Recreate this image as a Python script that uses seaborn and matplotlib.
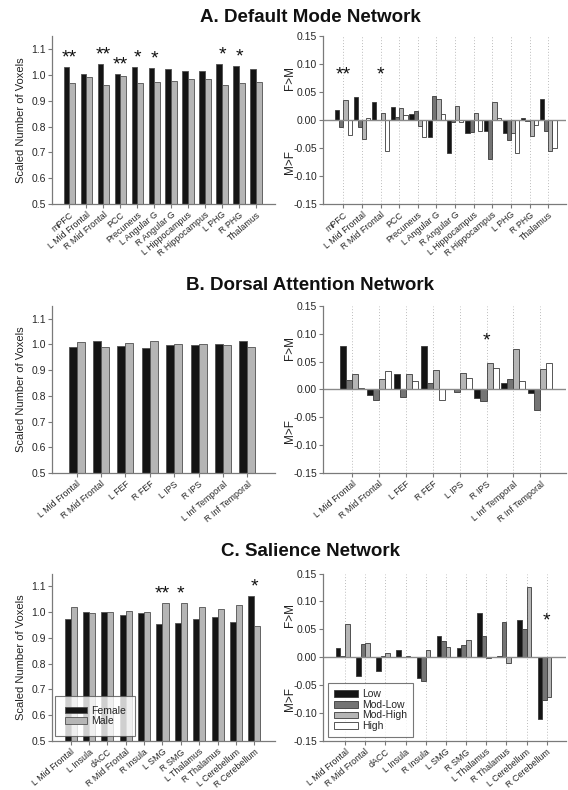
import matplotlib
matplotlib.use("Agg")
import matplotlib.pyplot as plt
from matplotlib.patches import Patch
import seaborn as sns
import pandas as pd

# ---------------- data ----------------
dmn_regions = ["mPFC", "L Mid Frontal", "R Mid Frontal", "PCC", "Precuneus", "L Angular G",
               "R Angular G", "L Hippocampus", "R Hippocampus", "L PHG", "R PHG", "Thalamus"]
dmn_female = [1.032, 1.004, 1.044, 1.004, 1.031, 1.026, 1.022, 1.014, 1.017, 1.044, 1.036, 1.025]
dmn_male = [0.968, 0.992, 0.960, 0.995, 0.970, 0.974, 0.978, 0.983, 0.983, 0.960, 0.968, 0.974]
dmn_sex_stars = ["**", "", "**", "**", "*", "*", "", "", "", "*", "*", ""]
dmn_low = [0.018, 0.041, 0.033, 0.023, 0.011, -0.031, -0.059, -0.024, -0.019, -0.024, 0.004, 0.037]
dmn_modlow = [-0.013, -0.013, 0.000, 0.006, 0.016, 0.044, -0.003, -0.021, -0.070, -0.036, -0.002, -0.020]
dmn_modhigh = [0.036, -0.034, 0.013, 0.022, -0.011, 0.038, 0.025, 0.013, 0.032, -0.024, -0.028, -0.056]
dmn_high = [-0.027, 0.004, -0.055, 0.009, -0.030, 0.011, -0.003, -0.020, 0.004, -0.059, -0.008, -0.050]
dmn_diff_stars = ["**", "", "*", "", "", "", "", "", "", "", "", ""]
dmn_diff_star_y = 0.081

dan_regions = ["L Mid Frontal", "R Mid Frontal", "L FEF", "R FEF", "L IPS", "R IPS",
               "L Inf Temporal", "R Inf Temporal"]
dan_female = [0.988, 1.012, 0.992, 0.986, 0.998, 0.996, 1.002, 1.013]
dan_male = [1.008, 0.988, 1.005, 1.012, 1.000, 1.002, 0.998, 0.988]
dan_sex_stars = ["", "", "", "", "", "", "", ""]
dan_low = [0.078, -0.010, 0.027, 0.077, 0.001, -0.016, 0.011, -0.007]
dan_modlow = [0.017, -0.019, -0.013, 0.012, -0.005, -0.020, 0.018, -0.037]
dan_modhigh = [0.027, 0.018, 0.027, 0.034, 0.029, 0.047, 0.073, 0.036]
dan_high = [0.002, 0.033, 0.016, -0.018, 0.020, 0.039, 0.016, 0.047]
dan_diff_stars = ["", "", "", "", "", "*", "", ""]
dan_diff_star_y = 0.086

sal_regions = ["L Mid Frontal", "L Insula", "dACC", "R Mid Frontal", "R Insula", "L SMG", "R SMG",
               "L Thalamus", "R Thalamus", "L Cerebellum", "R Cerebellum"]
sal_female = [0.975, 1.001, 0.999, 0.990, 0.998, 0.955, 0.957, 0.975, 0.980, 0.963, 1.063]
sal_male = [1.020, 0.997, 1.001, 1.005, 1.000, 1.036, 1.035, 1.020, 1.013, 1.028, 0.946]
sal_sex_stars = ["", "", "", "", "", "**", "*", "", "", "", "*"]
sal_diff_regions = ["L Mid Frontal", "R Mid Frontal", "dACC", "L Insula", "R Insula", "L SMG", "R SMG",
                    "L Thalamus", "R Thalamus", "L Cerebellum", "R Cerebellum"]
sal_low = [0.017, -0.033, -0.025, 0.013, -0.038, 0.039, 0.017, 0.080, 0.003, 0.066, -0.110]
sal_modlow = [0.003, 0.024, 0.003, 0.000, -0.042, 0.030, 0.022, 0.039, 0.063, 0.050, -0.077]
sal_modhigh = [0.060, 0.025, 0.008, 0.003, 0.013, 0.018, 0.031, -0.001, -0.010, 0.126, -0.071]
sal_high = [0.0, 0.0, 0.0, 0.0, 0.0, 0.0, 0.0, 0.0, 0.0, 0.0, 0.0]
sal_diff_stars = ["", "", "", "", "", "", "", "", "", "", "*"]
sal_diff_star_y = 0.065

sexes = ["Female", "Male"]
groups = ["Low", "Mod-Low", "Mod-High", "High"]
sex_colors = {"Female": "#141414", "Male": "#b5b5b5"}
grp_colors = {"Low": "#141414", "Mod-Low": "#747474", "Mod-High": "#b5b5b5", "High": "#ffffff"}

titles = ["A. Default Mode Network", "B. Dorsal Attention Network", "C. Salience Network"]

# ---------------- style ----------------
sns.set_theme(style="white")
plt.rcParams["font.family"] = ["Liberation Sans", "DejaVu Sans"]

fig = plt.figure(figsize=(5.68, 7.90), dpi=100)

SPINE = "#7a7a7a"
EDGE = "#3a3a3a"
XFS = 6.4
XROT = 40
STAR_FS = 14

rows = [
    (0.742, dmn_regions, dmn_female, dmn_male, dmn_sex_stars, dmn_regions,
     [dmn_low, dmn_modlow, dmn_modhigh, dmn_high], dmn_diff_stars, dmn_diff_star_y),
    (0.401, dan_regions, dan_female, dan_male, dan_sex_stars, dan_regions,
     [dan_low, dan_modlow, dan_modhigh, dan_high], dan_diff_stars, dan_diff_star_y),
    (0.062, sal_regions, sal_female, sal_male, sal_sex_stars, sal_diff_regions,
     [sal_low, sal_modlow, sal_modhigh, sal_high], sal_diff_stars, sal_diff_star_y),
]
title_y = [0.978, 0.639, 0.302]


def style_axis(ax):
    for s in ["top", "right"]:
        ax.spines[s].set_visible(False)
    for s in ["left", "bottom"]:
        ax.spines[s].set_color(SPINE)
        ax.spines[s].set_linewidth(0.9)
    ax.tick_params(axis="both", direction="out", length=3, width=0.8, color=SPINE,
                   labelsize=7.5, pad=1.5, bottom=True, left=True)
    ax.tick_params(axis="x", labelsize=XFS, pad=1.5)
    ax.set_xlabel("")


for i, (bottom, regs, fem, mal, sstars, dregs, diffs, dstars, dstar_y) in enumerate(rows):
    # ---------- left: sex comparison ----------
    axl = fig.add_axes([0.092, bottom, 0.393, 0.212])
    df = pd.DataFrame({
        "region": regs * 2,
        "sex": ["Female"] * len(regs) + ["Male"] * len(regs),
        "value": fem + mal,
    })
    sns.barplot(data=df, x="region", y="value", hue="sex", order=regs, hue_order=sexes,
                palette=sex_colors, width=0.66, edgecolor="#505050", linewidth=0.6,
                ax=axl, legend=False, saturation=1)
    axl.set_ylim(0.5, 1.15)
    axl.set_yticks([0.5, 0.6, 0.7, 0.8, 0.9, 1.0, 1.1])
    axl.set_yticklabels(["0.5", "0.6", "0.7", "0.8", "0.9", "1.0", "1.1"])
    n = len(regs)
    axl.set_xlim(-1.0, n - 1 + 1.15)
    axl.set_xticks(range(n))
    axl.set_xticklabels(regs, rotation=XROT, ha="right", rotation_mode="anchor", fontsize=XFS)
    style_axis(axl)
    axl.set_ylabel("Scaled Number of Voxels", fontsize=8, color="#222222", labelpad=4)
    for k, st in enumerate(sstars):
        if st:
            axl.text(k, max(fem[k], mal[k]) + 0.002, st, ha="center", va="bottom",
                     fontsize=STAR_FS, color="#111111")
    if i == 2:
        handles = [Patch(facecolor=sex_colors[s], edgecolor="#505050", linewidth=0.6) for s in sexes]
        leg = axl.legend(handles, sexes, loc="lower left", bbox_to_anchor=(0.005, 0.02),
                         fontsize=7.5, frameon=True, fancybox=False, handlelength=2.1,
                         handleheight=0.6, borderpad=0.9, labelspacing=0.05, handletextpad=0.4,
                         borderaxespad=0.2)
        leg.get_frame().set_edgecolor("#555555")
        leg.get_frame().set_linewidth(0.8)

    # ---------- right: group differences ----------
    axr = fig.add_axes([0.569, bottom, 0.428, 0.212])
    m = len(dregs)
    ddf = pd.DataFrame({
        "region": dregs * 4,
        "group": [g for g in groups for _ in range(m)],
        "value": [v for arr in diffs for v in arr],
    })
    axr.set_xlim(-1.08, m - 1 + 0.97)
    for k in range(m):
        axr.axvline(k, color="#bdbdbd", linestyle=(0, (1, 2)), linewidth=0.7, zorder=0)
    sns.barplot(data=ddf, x="region", y="value", hue="group", order=dregs, hue_order=groups,
                palette=grp_colors, width=0.9, edgecolor=EDGE, linewidth=0.6,
                ax=axr, legend=False, saturation=1)
    axr.axhline(0, color="#8a8a8a", linewidth=1.0, zorder=1)
    axr.set_xlim(-1.08, m - 1 + 0.97)
    axr.set_ylim(-0.15, 0.15)
    yt = [-0.15, -0.10, -0.05, 0.0, 0.05, 0.10, 0.15]
    axr.set_yticks(yt)
    axr.set_yticklabels([f"{v:.2f}" for v in yt])
    axr.set_xticks(range(m))
    axr.set_xticklabels(dregs, rotation=XROT, ha="right", rotation_mode="anchor", fontsize=XFS)
    style_axis(axr)
    axr.set_ylabel("")
    axr.text(-0.135, 0.75, "F>M", transform=axr.transAxes, rotation=90, ha="center",
             va="center", fontsize=8.5, color="#222222")
    axr.text(-0.135, 0.25, "M>F", transform=axr.transAxes, rotation=90, ha="center",
             va="center", fontsize=8.5, color="#222222")
    for k, st in enumerate(dstars):
        if st:
            axr.text(k, dstar_y, st, ha="center", va="center", fontsize=STAR_FS, color="#111111")
    if i == 2:
        handles = [Patch(facecolor=grp_colors[g], edgecolor=EDGE, linewidth=0.6) for g in groups]
        leg = axr.legend(handles, groups, loc="lower left", bbox_to_anchor=(0.01, 0.01),
                         fontsize=7.5, frameon=True, fancybox=False, handlelength=2.3,
                         handleheight=0.6, borderpad=0.6, labelspacing=0.05, handletextpad=0.4,
                         borderaxespad=0.2)
        leg.get_frame().set_edgecolor("#555555")
        leg.get_frame().set_linewidth(0.8)

    fig.text(0.546, title_y[i], titles[i], ha="center", va="center", fontsize=13.5,
             fontweight="bold", color="#111111")

fig.savefig("out.png", dpi=100)
